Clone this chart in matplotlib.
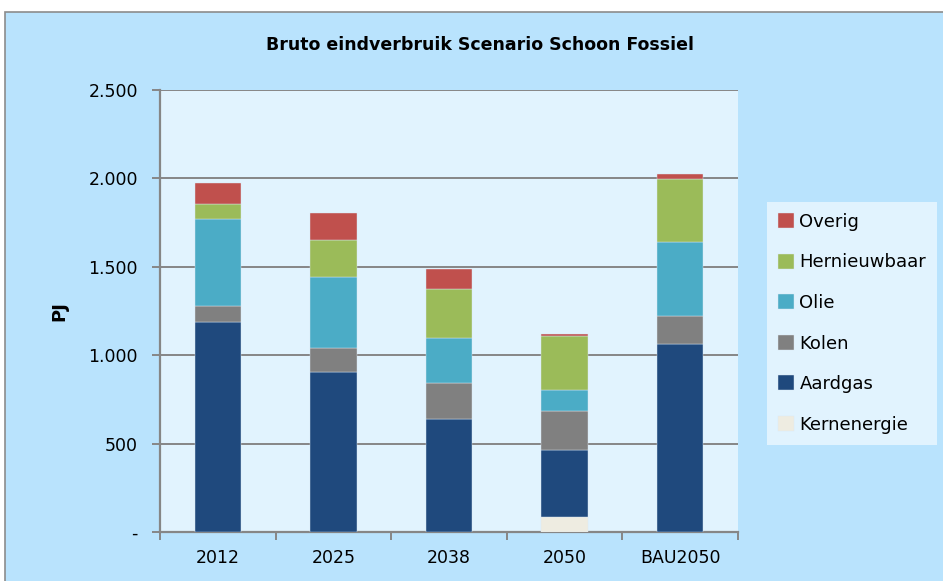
import matplotlib.pyplot as plt
import numpy as np
from matplotlib.patches import Rectangle

# PJ per category, stacked bottom to top
jaren = ["2012", "2025", "2038", "2050", "BAU2050"]
kernenergie = [0, 0, 0, 83, 0]
aardgas = [1186, 903, 637, 379, 1063]
kolen = [92, 138, 206, 222, 159]
olie = [494, 399, 254, 121, 418]
hernieuwbaar = [85, 213, 275, 301, 357]
overig = [119, 151, 117, 16, 28]

namen = ["Kernenergie", "Aardgas", "Kolen", "Olie", "Hernieuwbaar", "Overig"]
kleuren = ["#EEECE1", "#1F497D", "#808080", "#4BACC6", "#9BBB59", "#C0504D"]
reeksen = [kernenergie, aardgas, kolen, olie, hernieuwbaar, overig]

yticks = [0, 500, 1000, 1500, 2000, 2500]
ylabels = ["-", "500", "1.000", "1.500", "2.000", "2.500"]

W, H = 943, 581
fig = plt.figure(figsize=(W / 100, H / 100), dpi=100)
fig.patch.set_facecolor("white")

# chart area background with grey border
fig.patches.append(Rectangle((5 / W, -0.01), 1, 1.01 - 12 / H, transform=fig.transFigure,
                             facecolor="#B9E3FD", edgecolor="#8C8C8C", lw=1.2, zorder=-10))

ax = fig.add_axes([160 / W, (H - 532) / H, 578 / W, 442 / H])
ax.set_facecolor("#E1F3FE")

x = np.arange(len(jaren))
onder = np.zeros(len(jaren))
handles = []
for naam, kleur, waarden in zip(namen, kleuren, reeksen):
    b = ax.bar(x, waarden, width=0.4, bottom=onder, color=kleur,
               edgecolor="#DCE8F2", linewidth=0.3, label=naam, zorder=3)
    handles.append(b)
    onder += np.array(waarden)

ax.set_xlim(-0.5, len(jaren) - 0.5)
ax.set_ylim(0, 2500)
ax.set_yticks(yticks)
ax.set_yticklabels(ylabels, fontsize=12.5)
ax.yaxis.grid(True, color="#868686", lw=1.4, zorder=1)
ax.set_axisbelow(True)

ax.set_xticks(x)
ax.set_xticklabels(jaren, fontsize=12.5)
ax.set_xticks(np.arange(-0.5, len(jaren)), minor=True)
ax.tick_params(axis="x", which="major", length=0, pad=12)
ax.tick_params(axis="x", which="minor", length=6, width=1.4, color="#868686")
ax.tick_params(axis="y", length=6, width=1.4, color="#868686", pad=10)

for s in ["top", "right"]:
    ax.spines[s].set_visible(False)
for s in ["left", "bottom"]:
    ax.spines[s].set_color("#868686")
    ax.spines[s].set_linewidth(1.6)

ax.set_ylabel("PJ", fontsize=13, fontweight="bold", labelpad=14)

fig.text(480 / W, 1 - 45 / H, "Bruto eindverbruik Scenario Schoon Fossiel",
         ha="center", va="center", fontsize=12.5, fontweight="bold")

leg = fig.legend(handles[::-1], namen[::-1], loc="upper left",
                 bbox_to_anchor=(767 / W, 1 - 202 / H), frameon=True,
                 fontsize=13, handlelength=0.9, handleheight=0.9,
                 handletextpad=0.3, labelspacing=1.25, borderpad=0.6,
                 borderaxespad=0)
leg.get_frame().set_facecolor("#E1F3FE")
leg.get_frame().set_edgecolor("none")
leg.get_frame().set_alpha(1)
leg.get_frame().set_boxstyle("square", pad=0)

fig.savefig("out.png", dpi=100)
